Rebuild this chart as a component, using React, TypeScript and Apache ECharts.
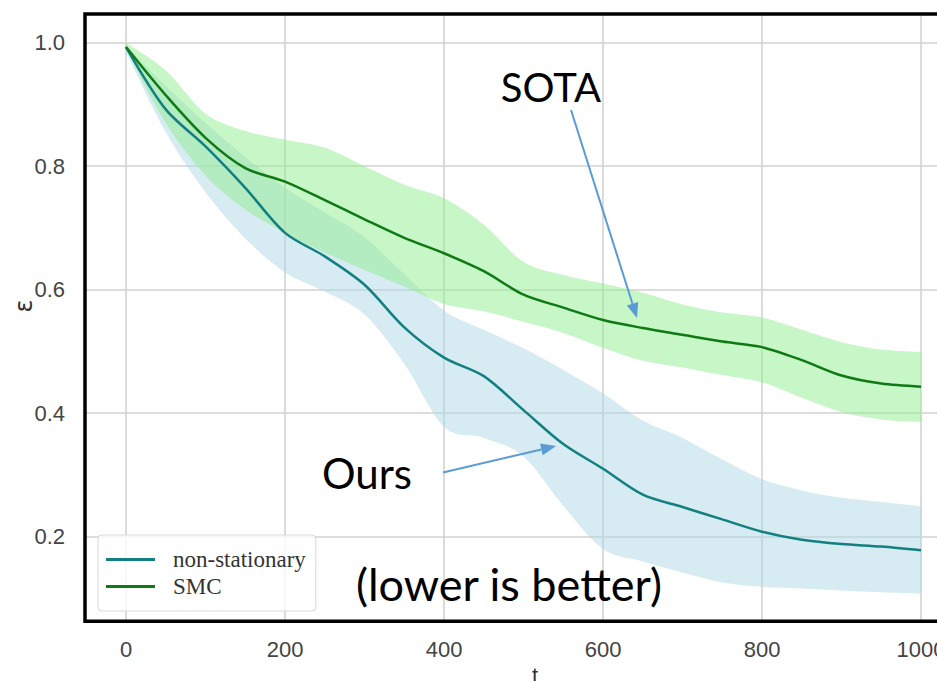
import React, { useEffect, useRef } from 'react';
import * as echarts from 'echarts';

// time steps
const tValues = [0, 50, 100, 150, 200, 250, 300, 350, 400, 450, 500, 550, 600, 650, 700, 750, 800, 850, 900, 950, 1000];

// non-stationary (ours)
const nsMean = [0.993, 0.892, 0.832, 0.765, 0.692, 0.654, 0.608, 0.539, 0.49, 0.46, 0.405, 0.35, 0.31, 0.268, 0.248, 0.228, 0.208, 0.195, 0.188, 0.184, 0.178];
const nsUpper = [0.995, 0.93, 0.87, 0.815, 0.765, 0.725, 0.685, 0.625, 0.566, 0.535, 0.505, 0.47, 0.432, 0.388, 0.36, 0.325, 0.293, 0.275, 0.263, 0.256, 0.249];
const nsLower = [0.985, 0.855, 0.758, 0.683, 0.628, 0.597, 0.56, 0.48, 0.378, 0.36, 0.33, 0.25, 0.18, 0.16, 0.142, 0.126, 0.119, 0.116, 0.113, 0.11, 0.108];

// SMC (SOTA)
const smcMean = [0.993, 0.915, 0.846, 0.797, 0.775, 0.745, 0.714, 0.684, 0.659, 0.63, 0.592, 0.571, 0.551, 0.538, 0.527, 0.516, 0.507, 0.486, 0.461, 0.448, 0.443];
const smcUpper = [1.0, 0.955, 0.885, 0.857, 0.843, 0.83, 0.8, 0.77, 0.748, 0.705, 0.645, 0.624, 0.61, 0.595, 0.576, 0.563, 0.555, 0.535, 0.515, 0.503, 0.499];
const smcLower = [0.99, 0.87, 0.785, 0.73, 0.692, 0.66, 0.632, 0.605, 0.577, 0.565, 0.548, 0.53, 0.506, 0.485, 0.474, 0.462, 0.45, 0.425, 0.402, 0.39, 0.386];

const seriesNames = ['non-stationary', 'SMC'];

const zip = (xs: number[], ys: number[]) => xs.map((x, i) => [x, ys[i]]);

// Catmull-Rom spline through points, as SVG path commands (without the initial move)
function splineCmds(pts: number[][]) {
  let d = '';
  for (let i = 0; i < pts.length - 1; i++) {
    const p0 = pts[Math.max(0, i - 1)];
    const p1 = pts[i];
    const p2 = pts[i + 1];
    const p3 = pts[Math.min(pts.length - 1, i + 2)];
    const c1x = p1[0] + (p2[0] - p0[0]) / 6;
    const c1y = p1[1] + (p2[1] - p0[1]) / 6;
    const c2x = p2[0] - (p3[0] - p1[0]) / 6;
    const c2y = p2[1] - (p3[1] - p1[1]) / 6;
    d += ` C ${c1x} ${c1y} ${c2x} ${c2y} ${p2[0]} ${p2[1]}`;
  }
  return d;
}

function arrow(x1: number, y1: number, x2: number, y2: number, color: string) {
  const dx = x2 - x1;
  const dy = y2 - y1;
  const len = Math.sqrt(dx * dx + dy * dy);
  const ux = dx / len;
  const uy = dy / len;
  const headLen = 15;
  const headW = 12;
  const bx = x2 - ux * headLen;
  const by = y2 - uy * headLen;
  const px = -uy * headW / 2;
  const py = ux * headW / 2;
  return [
    { type: 'line', shape: { x1, y1, x2: bx, y2: by }, style: { stroke: color, lineWidth: 2 }, z: 100 },
    { type: 'polygon', shape: { points: [[x2, y2], [bx + px, by + py], [bx - px, by - py]] }, style: { fill: color }, z: 100 },
  ];
}

export default function App() {
  const ref = useRef<HTMLDivElement>(null);
  useEffect(() => {
    const chart = echarts.init(ref.current as HTMLDivElement, null, { renderer: 'svg' });

    const band = (key: string, lower: number[], upper: number[], color: string) => ({
      name: key + '-band',
      type: 'custom',
      silent: true,
      z: 1,
      data: [[0, 0]],
      renderItem: (_params: any, api: any) => {
        const up = tValues.map((t, i) => api.coord([t, upper[i]]));
        const lo = tValues.map((t, i) => api.coord([t, lower[i]])).reverse();
        const d =
          `M ${up[0][0]} ${up[0][1]}` + splineCmds(up) +
          ` L ${lo[0][0]} ${lo[0][1]}` + splineCmds(lo) + ' Z';
        return { type: 'path', shape: { pathData: d }, style: { fill: color } };
      },
    });

    const nsColor = '#127f80';
    const smcColor = '#0f7a14';
    const arrowColor = '#5b9bd5';

    const gl = 85, gt = 14, gw = 875.8, gh = 607.3;

    chart.setOption({
      animation: false,
      backgroundColor: '#fff',
      grid: {
        left: gl, top: gt, width: gw, height: gh,
        show: false,
      },
      xAxis: {
        type: 'value', min: -51.6, max: 1050, splitNumber: 5,
        axisLine: { show: false }, axisTick: { show: false },
        splitLine: { showMinLine: false, showMaxLine: false, lineStyle: { color: '#d2d2d2', width: 1.6 } },
        axisLabel: {
          margin: 17, fontSize: 22, color: '#444', fontFamily: 'Liberation Sans',
          formatter: (v: number) => (Math.abs(v % 200) < 1e-6 ? String(Math.round(v)) : ''),
        },
      },
      yAxis: {
        type: 'value', min: 0.063, max: 1.0465, splitNumber: 5,
        axisLine: { show: false }, axisTick: { show: false },
        splitLine: { showMinLine: false, showMaxLine: false, lineStyle: { color: '#d2d2d2', width: 1.6 } },
        axisLabel: {
          margin: 20, fontSize: 22, color: '#444', fontFamily: 'Liberation Sans',
          formatter: (v: number) => {
            const r = Math.round(v * 5);
            return Math.abs(v * 5 - r) < 1e-6 ? (r / 5).toFixed(1) : '';
          },
        },
      },
      legend: {
        data: seriesNames.map((n) => ({ name: n, icon: 'rect' })),
        orient: 'vertical', left: 98, top: 535,
        padding: [13, 10, 13, 8], itemWidth: 49, itemHeight: 3, itemGap: 4,
        backgroundColor: 'rgba(255,255,255,0.8)', borderColor: '#d8d8d8', borderWidth: 1, borderRadius: 4,
        textStyle: { fontFamily: 'Liberation Serif', fontSize: 23, lineHeight: 22, color: '#333', padding: [0, 0, 0, 13] },
      },
      series: [
        band('ns', nsLower, nsUpper, 'rgba(173,216,230,0.5)'),
        band('smc', smcLower, smcUpper, 'rgba(144,238,144,0.5)'),
        {
          name: seriesNames[0], type: 'line', data: zip(tValues, nsMean), symbol: 'none', smooth: 0.3,
          lineStyle: { color: nsColor, width: 2.5 }, itemStyle: { color: nsColor }, z: 3,
        },
        {
          name: seriesNames[1], type: 'line', data: zip(tValues, smcMean), symbol: 'none', smooth: 0.3,
          lineStyle: { color: smcColor, width: 2.5 }, itemStyle: { color: smcColor }, z: 3,
        },
      ],
      graphic: [
        // plot frame
        {
          type: 'rect', shape: { x: gl, y: gt, width: gw, height: gh }, silent: true, z: 50,
          style: { fill: 'none', stroke: '#000', lineWidth: 3.5 },
        },
        { type: 'text', x: 535, y: 664, style: { text: 't', fontSize: 22, fill: '#333', fontFamily: 'Liberation Sans', align: 'center', verticalAlign: 'top' } },
        { type: 'text', x: 24, y: 306, rotation: Math.PI / 2, style: { text: 'ε', fontSize: 24, fill: '#333', fontFamily: 'DejaVu Sans', align: 'center', verticalAlign: 'middle' } },
        { type: 'text', x: 551, y: 87, style: { text: 'SOTA', fontSize: 40, fill: '#000', fontFamily: 'Lato', align: 'center', verticalAlign: 'middle' }, z: 100 },
        { type: 'text', x: 367, y: 473, style: { text: 'Ours', fontSize: 42, fill: '#000', fontFamily: 'Lato', align: 'center', verticalAlign: 'middle' }, z: 100 },
        { type: 'text', x: 509, y: 584, style: { text: '(lower is better)', fontSize: 45, fill: '#000', fontFamily: 'Lato', align: 'center', verticalAlign: 'middle' }, z: 100 },
        ...arrow(571, 110, 637, 318, arrowColor),
        ...arrow(443, 472.5, 556, 446, arrowColor),
      ],
    });
    return () => chart.dispose();
  }, []);

  return (
    <div style={{ position: 'fixed', left: 0, top: 0, width: 937, height: 681, overflow: 'hidden', background: '#fff' }}>
      <div ref={ref} style={{ width: 1000, height: 681 }} />
    </div>
  );
}
